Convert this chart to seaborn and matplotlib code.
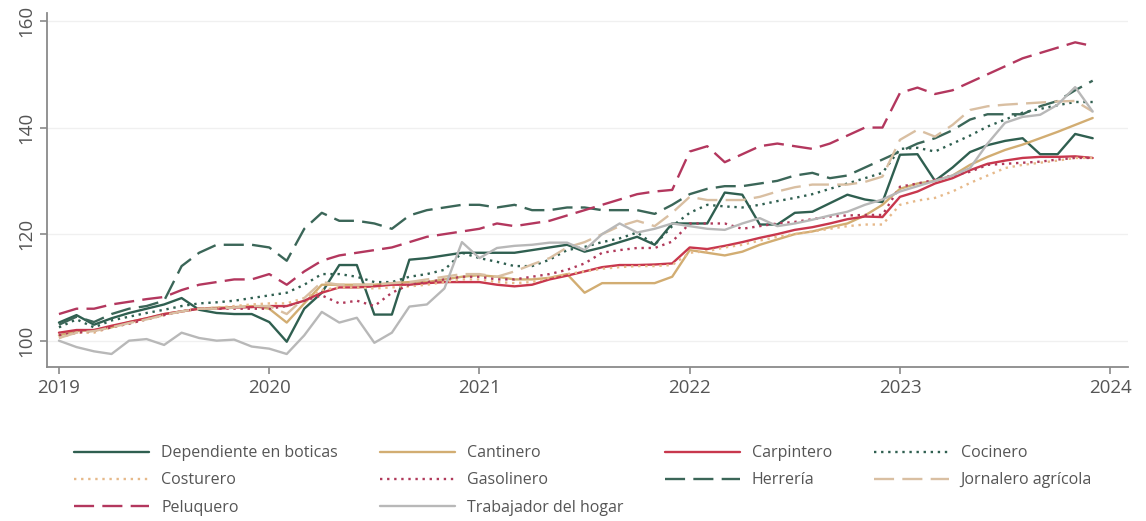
import numpy as np
import pandas as pd
import seaborn as sns
import matplotlib.pyplot as plt

# monthly index, Jan 2019 .. Dec 2023 (decimal years)
anios = 2019 + np.arange(60) / 12

dependiente = [103.4, 104.8, 103, 104.2, 105.2, 106, 106.8, 108, 105.8, 105.2, 105, 105,
               103.5, 99.8, 106, 109, 114.2, 114.2, 104.9, 104.9, 115.2, 115.5, 116, 116.5,
               116.5, 116.5, 116.5, 117, 117.5, 118, 116.7, 117.5, 118.5, 119.5, 118, 122,
               122, 122, 127.8, 127.4, 121.8, 121.8, 124, 124.2, 125.8, 127.4, 126.5, 126,
               134.9, 135, 130, 132.5, 135.4, 136.7, 137.5, 138, 135, 135, 138.8, 138]
cantinero = [101, 101.8, 102, 102.5, 103.5, 104.2, 105, 105.5, 106, 106.2, 106.3, 106.5,
             106, 103.4, 107, 110.5, 110.5, 110.5, 110.5, 110.8, 111, 111, 111.5, 112,
             112.3, 112, 111.5, 111.5, 111.8, 112.5, 109, 110.8, 110.8, 110.8, 110.8, 112,
             117, 116.5, 116, 116.7, 118, 119, 120, 120.5, 121.3, 122, 123.5, 125.5,
             128.5, 129.5, 130, 131, 133, 134.5, 135.8, 136.8, 138, 139.2, 140.5, 141.8]
carpintero = [101.5, 102, 102, 102.8, 103.5, 104.2, 105, 105.5, 106, 106, 106.2, 106.3,
              106.5, 106.5, 107.5, 109, 110, 110, 110.2, 110.5, 110.5, 110.8, 111, 111,
              111, 110.5, 110.2, 110.5, 111.5, 112.2, 113, 113.8, 114.2, 114.2, 114.3, 114.5,
              117.5, 117.2, 117.8, 118.5, 119.3, 120, 120.8, 121.3, 122, 122.8, 123.3, 123.2,
              127, 128, 129.5, 130.5, 132, 133.2, 133.8, 134.3, 134.5, 134.5, 134.6, 134.3]
cocinero = [102.5, 104, 102.5, 103.8, 104.5, 105.2, 105.8, 106.5, 107, 107.2, 107.5, 108,
            108.5, 109, 110.5, 112.5, 112.5, 112, 111, 111, 112, 112.5, 113.3, 116.5,
            115.5, 114.8, 114, 114, 115.2, 117, 117.6, 118.5, 119.2, 120.3, 118, 121.5,
            124, 125.5, 125.2, 125, 125.5, 126.2, 126.8, 127.5, 128.5, 129.5, 130.5, 131.5,
            136, 136.2, 135.5, 137, 138.5, 140.2, 141.5, 142.8, 143.5, 144.2, 144.8, 144.8]
costurero = [100.5, 101.5, 101.5, 102.5, 103.2, 104, 104.8, 105.5, 106, 106.2, 106.5, 106.8,
             107, 107, 108, 109.5, 110, 110, 109.8, 110, 110.2, 110.5, 111, 111.5,
             111.5, 111, 110.8, 111, 111.8, 112.5, 113, 113.5, 113.8, 114, 114, 114.2,
             116.5, 116.8, 117.5, 118, 118.8, 119.5, 120, 120.5, 121, 121.5, 121.8, 121.8,
             125.5, 126.3, 126.8, 128, 129.6, 131, 132.4, 133, 133.4, 133.8, 134.3, 134.3]
gasolinero = [101, 101.5, 101.8, 102.5, 103.2, 104, 104.8, 105.5, 106, 106, 106, 106,
              106, 106.5, 107.5, 108.5, 107, 107.5, 106.5, 109, 110.5, 111, 111.5, 112,
              112, 111.5, 111.5, 112, 112.5, 113.3, 114.5, 116.5, 117, 117.4, 117.4, 118.6,
              122, 122, 122, 121, 121.5, 122, 122.3, 122.8, 123.3, 123.5, 123.6, 123.6,
              128.9, 129.5, 130.2, 131, 131.7, 133, 133.2, 133.4, 133.6, 134, 134.3, 134.3]
herreria = [103, 104.5, 103.5, 105, 106, 106.5, 107.5, 114, 116.5, 118, 118, 118,
            117.5, 115, 121, 124, 122.5, 122.5, 122, 121, 123.5, 124.5, 125, 125.5,
            125.5, 125, 125.5, 124.5, 124.5, 125, 125, 124.5, 124.5, 124.5, 123.8, 125.5,
            127.5, 128.5, 129, 129, 129.5, 130, 131, 131.5, 130.5, 131, 132.5, 134,
            135.5, 137, 138, 139.5, 141.5, 142.5, 142.5, 142.5, 144, 145, 147, 148.8]
jornalero = [100.5, 101.5, 101.8, 102.5, 103.3, 104, 104.8, 105.5, 106, 106, 106.2, 106.5,
             106.5, 105, 108, 111, 110.5, 110.5, 110.5, 110.8, 111, 111.5, 112, 112.5,
             112.5, 112, 113, 114.3, 115.5, 117.5, 118.5, 120, 121.5, 122.5, 121.5, 124,
             127, 126.4, 126.4, 126.4, 127, 128, 128.8, 129.3, 129.3, 129.3, 129.8, 130.8,
             137.7, 139.6, 138.3, 140.5, 143.3, 144, 144.3, 144.5, 144.7, 144.9, 145, 143]
peluquero = [105, 106, 106, 106.8, 107.3, 107.8, 108.2, 109.5, 110.5, 111, 111.5, 111.5,
             112.5, 110.5, 113, 115, 116, 116.5, 117, 117.5, 118.5, 119.5, 120, 120.5,
             121, 122, 121.5, 122, 122.5, 123.5, 124.5, 125.5, 126.5, 127.5, 128, 128.3,
             135.5, 136.5, 133.5, 135, 136.5, 137, 136.5, 136, 137, 138.5, 140, 140,
             146.5, 147.5, 146.3, 147, 148.5, 150, 151.5, 153, 154, 155, 156, 155.3]
trabajador = [100, 98.8, 98, 97.5, 100, 100.3, 99.2, 101.5, 100.5, 100, 100.2, 98.9,
              98.5, 97.5, 101, 105.4, 103.4, 104.3, 99.6, 101.5, 106.4, 106.8, 109.8, 118.5,
              115.5, 117.4, 117.8, 118, 118.4, 118.4, 117, 120, 122, 120.3, 121, 122,
              121.5, 121, 120.8, 122, 123, 121.5, 122, 122.7, 123.5, 124.2, 125.5, 126.5,
              128, 129, 130, 131, 132.4, 137, 140.9, 142, 142.4, 144.3, 147.6, 143]

series = {
    "Dependiente en boticas": dependiente,
    "Cantinero": cantinero,
    "Carpintero": carpintero,
    "Cocinero": cocinero,
    "Costurero": costurero,
    "Gasolinero": gasolinero,
    "Herrería": herreria,
    "Jornalero agrícola": jornalero,
    "Peluquero": peluquero,
    "Trabajador del hogar": trabajador,
}

colores = {
    "Dependiente en boticas": "#2f5f50",
    "Cantinero": "#d2ad72",
    "Carpintero": "#c8374d",
    "Cocinero": "#2f5f50",
    "Costurero": "#e6b98a",
    "Gasolinero": "#b0395a",
    "Herrería": "#3b6658",
    "Jornalero agrícola": "#d9bfa2",
    "Peluquero": "#b3375e",
    "Trabajador del hogar": "#b8b8b8",
}
dash_largo = (8.5, 3.5)
punto = (1, 2)
estilos = {
    "Dependiente en boticas": "",
    "Cantinero": "",
    "Carpintero": "",
    "Cocinero": punto,
    "Costurero": punto,
    "Gasolinero": punto,
    "Herrería": dash_largo,
    "Jornalero agrícola": dash_largo,
    "Peluquero": dash_largo,
    "Trabajador del hogar": "",
}

df = pd.concat([pd.DataFrame({"anio": anios, "valor": v, "serie": k})
                for k, v in series.items()], ignore_index=True)

sns.set_style("white")
plt.rcParams['font.family'] = ['Open Sans', 'DejaVu Sans']

fig = plt.figure(figsize=(11.46, 5.21), dpi=100)
ax = fig.add_axes([0.041, 0.296, 0.943, 0.679])

sns.lineplot(data=df, x="anio", y="valor", hue="serie", style="serie",
             palette=colores, dashes=estilos, linewidth=1.7, ax=ax)

ax.set_xlim(2018.943, 2024.083)
ax.set_ylim(95.1, 161.5)
ax.set_xticks([2019, 2020, 2021, 2022, 2023, 2024])
ax.set_yticks([100, 120, 140, 160])
ax.set_xlabel("")
ax.set_ylabel("")
ax.grid(axis="y", color="#f0f0f0", linewidth=1)
for s in ["top", "right"]:
    ax.spines[s].set_visible(False)
for s in ["left", "bottom"]:
    ax.spines[s].set_color("#8a8a8a")
    ax.spines[s].set_linewidth(1.3)
ax.tick_params(axis="both", colors="#8a8a8a", labelcolor="#555555",
               labelsize=13.5, length=5, width=1.2, direction="out",
               bottom=True, left=True)
for lab in ax.get_yticklabels():
    lab.set_rotation(90)
    lab.set_va("center")

# legend row-major like the reference (matplotlib fills by column)
handles, labels = ax.get_legend_handles_labels()
hmap = dict(zip(labels, handles))
orden = ["Dependiente en boticas", "Costurero", "Peluquero",
         "Cantinero", "Gasolinero", "Trabajador del hogar",
         "Carpintero", "Herrería",
         "Cocinero", "Jornalero agrícola"]
ax.legend([hmap[o] for o in orden], orden, ncol=4, frameon=False,
          loc="upper left", bbox_to_anchor=(0.012, -0.181),
          fontsize=11.5, handlelength=4.7, columnspacing=2.6,
          labelspacing=0.7, handletextpad=0.75, labelcolor="#555555")

plt.savefig("out.png", dpi=100)
